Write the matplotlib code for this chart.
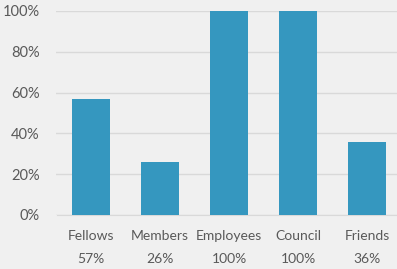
import numpy as np
import matplotlib.pyplot as plt

plt.rcParams['font.family'] = ['Lato', 'DejaVu Sans']

categories = ['Fellows', 'Members', 'Employees', 'Council', 'Friends']
values = [57, 26, 100, 100, 36]
yticks = [0, 20, 40, 60, 80, 100]

W, H = 397, 269
bg = '#f0f0f0'
txt = '#595959'

fig = plt.figure(figsize=(W / 100, H / 100), dpi=100, facecolor=bg)
# axes spans pixels x 56.5..401.5, y 11..215
ax = fig.add_axes([56.5 / W, 1 - 215 / H, 345 / W, 204 / H], facecolor=bg)

x = np.arange(len(categories))
ax.bar(x, values, width=0.55, color='#3597bf', zorder=3)

ax.set_xlim(-0.5, len(categories) - 0.5)
ax.set_ylim(0, 100)
ax.set_yticks(yticks)
ax.set_yticklabels([f'{v}%' for v in yticks], fontsize=10.5, color=txt)
ax.yaxis.grid(True, color='#d9d9d9', linewidth=1, zorder=0)
ax.tick_params(axis='y', length=0, pad=12)
ax.tick_params(axis='x', length=0, pad=11)
ax.set_xticks(x)
ax.set_xticklabels(categories, fontsize=10, color=txt)
# percent row under the category names
for xi, v in zip(x, values):
    ax.annotate(f'{v}%', (xi, 0), xycoords=('data', 'axes fraction'),
                xytext=(0, -44), textcoords='offset pixels',
                ha='center', va='center', fontsize=10, color=txt)
for s in ['top', 'right', 'left']:
    ax.spines[s].set_visible(False)
ax.spines['bottom'].set_color('#d9d9d9')

fig.savefig('out.png', dpi=100, facecolor=bg)
